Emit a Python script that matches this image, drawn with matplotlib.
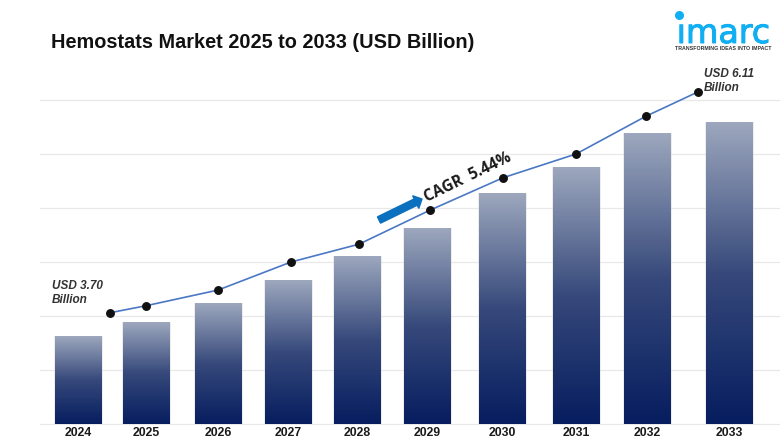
import numpy as np
import matplotlib
matplotlib.use("Agg")
import matplotlib.pyplot as plt
import matplotlib.patheffects as pe
from matplotlib.colors import LinearSegmentedColormap
from matplotlib.patches import FancyArrow, Rectangle
from matplotlib.transforms import IdentityTransform

years = ["2024", "2025", "2026", "2027", "2028", "2029", "2030", "2031", "2032", "2033"]
bar_values = [1.62, 1.88, 2.23, 2.66, 3.10, 3.62, 4.27, 4.75, 5.38, 5.59]
line_values = [2.06, 2.19, 2.48, 3.00, 3.33, 3.96, 4.56, 5.00, 5.70, 6.15]
grid_levels = [0, 1, 2, 3, 4, 5, 6]
title = "Hemostats Market 2025 to 2033 (USD Billion)"

# layout, in figure pixels
bar_centers = [78, 146, 218, 288, 357, 427, 502, 576, 647, 729]
line_x = [110, 146, 218, 291, 359, 430, 503, 576, 646, 698]
bar_width = 47
W, H = 780, 440

plt.rcParams["font.family"] = ["Liberation Sans", "DejaVu Sans"]
fig = plt.figure(figsize=(W / 100, H / 100), dpi=100)
ax = fig.add_axes([0, 16 / H, 1, 424 / H])
ax.set_xlim(0, W)
ax.set_ylim(0, 424 / 54)
for s in ax.spines.values():
    s.set_visible(False)
ax.set_yticks([])
ax.set_xticks(bar_centers)
ax.set_xticklabels(years, fontsize=8.8, fontweight="bold", color="#1a1a1a")
ax.tick_params(axis="x", length=0, pad=2.5)

for g in grid_levels:
    ax.plot([40, W], [g, g], color="#e8e8e8", lw=0.9, zorder=1, clip_on=False)

cmap = LinearSegmentedColormap.from_list("bar", ["#00185c", "#324578", "#9ba6bd"])
grad = np.linspace(0, 1, 256).reshape(-1, 1)
for c, v in zip(bar_centers, bar_values):
    x0 = c - bar_width / 2
    ax.add_patch(Rectangle((x0 - 1, 0), bar_width + 2, v + 0.01, fc="#dcdcdc", ec="none", alpha=0.5, zorder=2))
    ax.imshow(grad, origin="lower", aspect="auto", cmap=cmap,
              extent=(x0, x0 + bar_width, 0, v), zorder=3, alpha=0.98)
ax.set_xlim(0, W)
ax.set_ylim(0, 424 / 54)

ax.plot(line_x, line_values, color="#4a78c4", lw=1.2, zorder=4)
ax.plot(line_x, line_values, ls="", marker="o", ms=5.4, color="#111111", zorder=5)

fig.text(51 / W, 1 - 43 / H, title, fontsize=14.35, fontweight="bold", color="#111111", va="center", ha="left")
fig.text(52 / W, 1 - 293 / H, "USD 3.70\nBillion", fontsize=8.5, fontweight="bold", style="italic",
         color="#333333", va="center", ha="left", linespacing=1.3)
fig.text(704 / W, 1 - 81 / H, "USD 6.11\nBillion", fontsize=8.5, fontweight="bold", style="italic",
         color="#333333", va="center", ha="left", linespacing=1.3)

# CAGR label and arrow
fig.text(468 / W, 1 - 178 / H, "CAGR  5.44%", fontsize=11.2, fontweight="bold", color="#1a1a1a",
         rotation=26, rotation_mode="anchor", va="center", ha="center", family="Open Sans")
fig.add_artist(FancyArrow(379, H - 220, 43, 21, width=7, head_width=14, head_length=7,
                          length_includes_head=True, color="#0b70bd", zorder=6,
                          transform=IdentityTransform()))

# logo
logo = fig.text(723.5 / W, 1 - 43 / H, "\u0131marc", fontsize=24, color="#10aef2",
                family="DejaVu Sans", va="baseline", ha="center")
logo.set_path_effects([pe.withStroke(linewidth=0.7, foreground="#10aef2")])
fig.add_artist(plt.Line2D([679 / W], [1 - 15 / H], marker="o", ms=5.5, color="#10aef2", ls=""))
fig.text(723.5 / W, 1 - 49 / H, "TRANSFORMING IDEAS INTO IMPACT", fontsize=3.8, fontweight="bold",
         color="#333333", va="center", ha="center")

fig.savefig("out.png", dpi=100, facecolor="white")
